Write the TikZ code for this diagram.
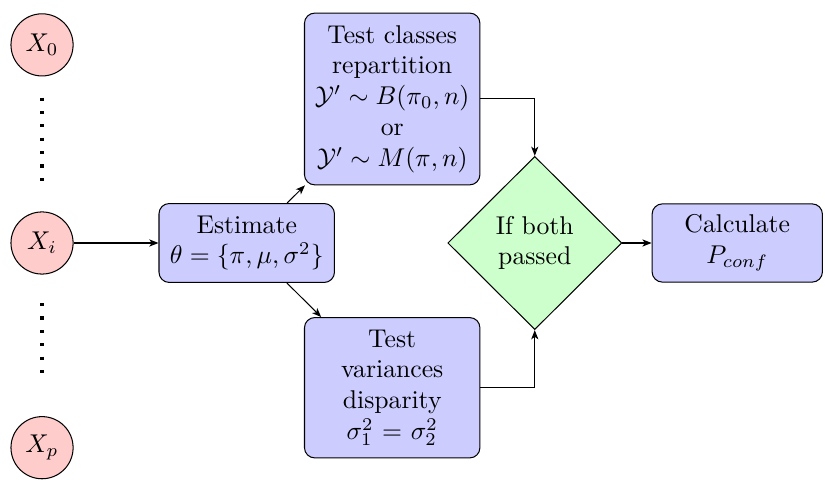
\documentclass[tikz,border=0pt]{standalone}
\usepackage{amsmath}
\usepackage{amssymb}
\usepackage{xcolor}
\definecolor{boxblue}{HTML}{CCCCFF}
\definecolor{varred}{HTML}{FFCCCC}
\definecolor{testgreen}{HTML}{CCFFCC}
\usepackage{tikz}
\usetikzlibrary{shapes.geometric, arrows.meta, positioning}

\begin{document}
\begin{tikzpicture}[
    >={Stealth[length=3.6pt, width=2.8pt, inset=1pt]},
    var/.style={draw, circle, fill=varred, minimum size=0.85cm, inner sep=0pt},
    block/.style={draw, rounded corners=4pt, fill=boxblue, align=center, minimum width=2.4cm},
    decision/.style={draw, diamond, aspect=1, fill=testgreen, align=center, minimum width=2.38cm, minimum height=2.37cm, inner sep=0pt},
    gap/.style={line width=1.2pt, loosely dotted}
]
\useasboundingbox (-0.575, -3.229) rectangle (10.71, 3.324);

% ── Variables ──
\node[var] (x0) at (0, 2.71) {$X_0$};
\node[var] (xi) at (0, 0) {$X_i$};
\node[var] (xp) at (0, -2.80) {$X_p$};

% ── Estimation and tests ──
\node[block, minimum height=1.08cm] (est) at (2.80, 0) {Estimate\\$\theta=\{\pi,\mu,\sigma^2\}$};
\node[block, minimum height=2.35cm] (tc) at (4.79, 1.97) {Test classes\\repartition\\$\mathcal{Y}'\sim B(\pi_0,n)$\\or\\$\mathcal{Y}'\sim M(\pi,n)$};
\node[block, minimum height=1.92cm] (tv) at (4.79, -1.98) {Test\\variances\\disparity\\$\sigma_1^2$ = $\sigma_2^2$};

% ── Decision and output ──
\node[decision] (dia) at (6.74, 0) {If both\\passed};
\node[block, minimum height=1.07cm, minimum width=2.33cm] (calc) at (9.51, 0) {Calculate\\$P_{conf}$};

% ── Dotted gaps ──
\draw[gap, shorten <=0.29cm, shorten >=0.37cm] (x0) -- (xi);
\draw[gap, shorten <=0.39cm, shorten >=0.53cm] (xi) -- (xp);

% ── Routing ──
\draw[->] (xi) -- (est);
\draw[->] (est) -- (tc);
\draw[->] (est) -- (tv);
\draw[->] (tc) -| (dia);
\draw[->] (tv) -| (dia);
\draw[->] (dia) -- (calc);

\end{tikzpicture}
\end{document}
